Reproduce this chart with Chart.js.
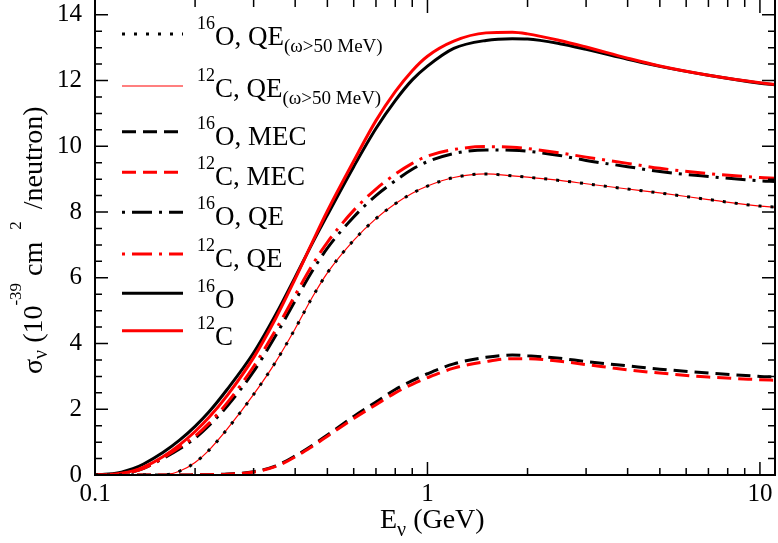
<!DOCTYPE html>
<html><head><meta charset="utf-8">
<script src="https://cdn.jsdelivr.net/npm/chart.js@4.4.0/dist/chart.umd.min.js"></script>
<style>html,body{margin:0;padding:0;background:#fff;}#wrap{width:778px;height:543px;}</style>
</head><body><div id="wrap"><canvas id="c" width="778" height="543"></canvas></div>
<script>
// ---- data ----
const energies = [0.1, 0.11, 0.12, 0.13, 0.14, 0.16, 0.18, 0.2, 0.22, 0.25, 0.3, 0.35, 0.4, 0.45, 0.5, 0.6, 0.7, 0.8, 0.9, 1.0, 1.2, 1.5, 1.8, 2.0, 2.5, 3.0, 4.0, 5.0, 7.0, 10, 11.1];
const totalO = [0, 0.03, 0.087, 0.19, 0.335, 0.683, 1.067, 1.479, 1.914, 2.608, 3.717, 4.89, 6.02, 7.04, 7.91, 9.38, 10.54, 11.39, 12.02, 12.44, 12.98, 13.22, 13.27, 13.26, 13.12, 12.95, 12.65, 12.43, 12.16, 11.92, 11.87];
const totalC = [0, 0.017, 0.055, 0.125, 0.238, 0.557, 0.926, 1.324, 1.746, 2.423, 3.571, 4.777, 5.966, 7.067, 8.03, 9.55, 10.78, 11.66, 12.3, 12.74, 13.2, 13.45, 13.47, 13.42, 13.22, 13.02, 12.68, 12.44, 12.16, 11.93, 11.88];
const qeO = [0, 0.01, 0.04, 0.1, 0.2, 0.5, 0.8, 1.12, 1.5, 2.1, 3.15, 4.25, 5.3, 6.2, 6.9, 7.85, 8.5, 8.95, 9.3, 9.53, 9.78, 9.89, 9.88, 9.85, 9.72, 9.57, 9.38, 9.23, 9.08, 8.95, 8.93];
const qeC = [0, 0.01, 0.04, 0.1, 0.2, 0.52, 0.85, 1.18, 1.57, 2.2, 3.3, 4.42, 5.47, 6.38, 7.08, 8.05, 8.7, 9.15, 9.48, 9.7, 9.9, 9.99, 9.97, 9.93, 9.8, 9.67, 9.48, 9.33, 9.17, 9.05, 9.03];
const qe50O = [0, 0, 0, 0, 0, 0, 0.12, 0.38, 0.75, 1.4, 2.45, 3.45, 4.45, 5.4, 6.15, 7.14, 7.8, 8.25, 8.57, 8.79, 9.05, 9.16, 9.1, 9.06, 8.96, 8.86, 8.7, 8.58, 8.38, 8.18, 8.15];
const qe50C = [0, 0, 0, 0, 0, 0, 0.12, 0.38, 0.75, 1.4, 2.45, 3.45, 4.45, 5.4, 6.15, 7.14, 7.8, 8.25, 8.57, 8.79, 9.05, 9.16, 9.1, 9.06, 8.96, 8.86, 8.7, 8.58, 8.38, 8.18, 8.15];
const mecO = [0, 0, 0, 0, 0, 0, 0, 0.005, 0.01, 0.03, 0.1, 0.28, 0.58, 0.9, 1.22, 1.78, 2.22, 2.6, 2.87, 3.08, 3.38, 3.58, 3.65, 3.63, 3.55, 3.45, 3.32, 3.22, 3.1, 3.0, 2.98];
const mecC = [0, 0, 0, 0, 0, 0, 0, 0.005, 0.01, 0.025, 0.09, 0.26, 0.55, 0.87, 1.18, 1.72, 2.14, 2.5, 2.76, 2.96, 3.25, 3.45, 3.54, 3.54, 3.46, 3.36, 3.2, 3.1, 2.98, 2.9, 2.88];

const xMajorTicks = [0.1, 1, 10];
const xMinorTicks = [0.2, 0.3, 0.4, 0.5, 0.6, 0.7, 0.8, 0.9, 2, 3, 4, 5, 6, 7, 8, 9];
const yMajorTicks = [0, 2, 4, 6, 8, 10, 12, 14];
const yMinorStep = 0.5;

const legendIsotopes = ['16', '12', '16', '12', '16', '12', '16', '12'];
const legendNames = ['O, QE', 'C, QE', 'O, MEC', 'C, MEC', 'O, QE', 'C, QE', 'O', 'C'];
const legendSubs = ['(ω>50 MeV)', '(ω>50 MeV)', '', '', '', '', '', ''];

// ---- styles ----
const SERIF = '"Liberation Serif", "Times New Roman", serif';
const st = {
  qe50O: { c: '#000', w: 3, d: [3, 9] },
  qe50C: { c: '#ff0000', w: 1.2, d: [] },
  mecO: { c: '#000', w: 3, d: [14, 7] },
  mecC: { c: '#ff0000', w: 3, d: [14, 7] },
  qeO: { c: '#000', w: 3, d: [20, 7, 3, 7] },
  qeC: { c: '#ff0000', w: 3, d: [20, 7, 3, 7] },
  totO: { c: '#000', w: 3, d: [] },
  totC: { c: '#ff0000', w: 3, d: [] }
};
const legendStyles = [st.qe50O, st.qe50C, st.mecO, st.mecC, st.qeO, st.qeC, st.totO, st.totC];

function mk(label, vals, s) {
  return {
    label, data: energies.map((e, i) => ({ x: e, y: vals[i] })),
    borderColor: s.c, borderWidth: s.w, borderDash: s.d, backgroundColor: s.c,
    pointRadius: 0, fill: false, cubicInterpolationMode: 'monotone', borderCapStyle: 'butt'
  };
}

function drawRich(ctx, x, y, segs) {
  let cx = x;
  for (const s of segs) {
    if (s.gap) { cx += s.gap; continue; }
    ctx.font = s.size + 'px ' + SERIF;
    ctx.fillText(s.t, cx, y + (s.dy || 0));
    cx += ctx.measureText(s.t).width;
  }
  return cx;
}

const decor = {
  id: 'decor',
  afterDraw(chart) {
    const ctx = chart.ctx, a = chart.chartArea;
    const xs = chart.scales.x, ys = chart.scales.y;
    ctx.save();
    ctx.strokeStyle = '#000'; ctx.fillStyle = '#000';
    ctx.lineWidth = 2; ctx.setLineDash([]);
    ctx.beginPath();
    ctx.moveTo(a.left, a.top); ctx.lineTo(a.left, a.bottom); ctx.lineTo(a.right, a.bottom); ctx.lineTo(a.right, a.top);
    ctx.stroke();
    ctx.lineWidth = 1.5;
    const MAJ = 13, MIN = 7;
    ctx.beginPath();
    const xt = (v, len) => { const p = xs.getPixelForValue(v); ctx.moveTo(p, a.bottom); ctx.lineTo(p, a.bottom - len); ctx.moveTo(p, a.top); ctx.lineTo(p, a.top + len); };
    xMajorTicks.forEach(v => xt(v, MAJ));
    xMinorTicks.forEach(v => xt(v, MIN));
    const yt = (v, len) => { const p = ys.getPixelForValue(v); ctx.moveTo(a.left, p); ctx.lineTo(a.left + len, p); ctx.moveTo(a.right, p); ctx.lineTo(a.right - len, p); };
    for (let v = 0; v <= 14.001; v += yMinorStep) {
      yt(v, yMajorTicks.some(m => Math.abs(m - v) < 1e-6) ? MAJ : MIN);
    }
    ctx.stroke();

    // legend
    const lineY = [34, 86, 131.7, 172.3, 212.3, 254, 293.3, 330.7];
    const baseY = [45, 96.5, 145, 185, 224.5, 266.5, 308, 345];
    ctx.textBaseline = 'alphabetic'; ctx.textAlign = 'left';
    for (let i = 0; i < legendNames.length; i++) {
      const s = legendStyles[i];
      ctx.save();
      ctx.strokeStyle = s.c; ctx.lineWidth = s.w; ctx.lineCap = 'butt';
      ctx.setLineDash(s.d);
      if (s.d.length === 4) ctx.lineDashOffset = s.d[0] + s.d[1];
      ctx.beginPath(); ctx.moveTo(122, lineY[i]); ctx.lineTo(183, lineY[i]); ctx.stroke();
      ctx.restore();
      const segs = [
        { t: legendIsotopes[i], size: 18, dy: -16 },
        { t: legendNames[i], size: 27 }
      ];
      if (legendSubs[i]) segs.push({ t: legendSubs[i], size: 19, dy: 7 });
      drawRich(ctx, 197, baseY[i], segs);
    }

    // x title
    drawRich(ctx, 380, 528, [
      { t: 'E', size: 28 }, { t: 'ν', size: 20, dy: 8 }, { t: ' (GeV)', size: 28 }
    ]);
    // y title
    ctx.save();
    ctx.translate(42, 374);
    ctx.rotate(-Math.PI / 2);
    drawRich(ctx, 0, 0, [
      { t: 'σ', size: 28 }, { t: 'ν', size: 20, dy: 5 }, { t: ' (10', size: 28 },
      { t: '-39', size: 17, dy: -21 }, { t: ' cm', size: 28 }, { gap: 12 },
      { t: '2', size: 17, dy: -21 }, { gap: 12 }, { t: '/neutron)', size: 28 }
    ]);
    ctx.restore();
    ctx.restore();
  }
};

new Chart(document.getElementById('c'), {
  type: 'line',
  data: {
    datasets: [
      mk('16O, QE (ω>50 MeV)', qe50O, st.qe50O),
      mk('12C, QE (ω>50 MeV)', qe50C, st.qe50C),
      mk('12C', totalC, st.totC),
      mk('16O', totalO, st.totO),
      mk('12C, QE', qeC, st.qeC),
      mk('16O, QE', qeO, st.qeO),
      mk('12C, MEC', mecC, st.mecC),
      mk('16O, MEC', mecO, st.mecO)
    ]
  },
  options: {
    responsive: false, animation: false, devicePixelRatio: 1,
    layout: { padding: { left: 0, right: 3, top: 0, bottom: 0 } },
    plugins: { legend: { display: false }, tooltip: { enabled: false }, title: { display: false } },
    scales: {
      x: {
        type: 'logarithmic', min: 0.1, max: 11.1,
        grid: { display: false, drawTicks: false }, border: { display: false },
        ticks: { color: '#000', font: { family: SERIF, size: 25 }, padding: 4, maxRotation: 0, autoSkip: false,
          callback: v => String(v) },
        afterBuildTicks: s => { s.ticks = xMajorTicks.map(v => ({ value: v })); },
        afterFit: s => { s.height = 68; s.paddingLeft = 0; s.paddingRight = 0; }
      },
      y: {
        min: 0, max: 14.45,
        grid: { display: false, drawTicks: false }, border: { display: false },
        ticks: { color: '#000', font: { family: SERIF, size: 25 }, padding: 13, autoSkip: false },
        afterBuildTicks: s => { s.ticks = yMajorTicks.map(v => ({ value: v })); },
        afterFit: s => { s.width = 95; s.paddingTop = 0; s.paddingBottom = 0; }
      }
    }
  },
  plugins: [decor]
});
</script>
</body></html>
